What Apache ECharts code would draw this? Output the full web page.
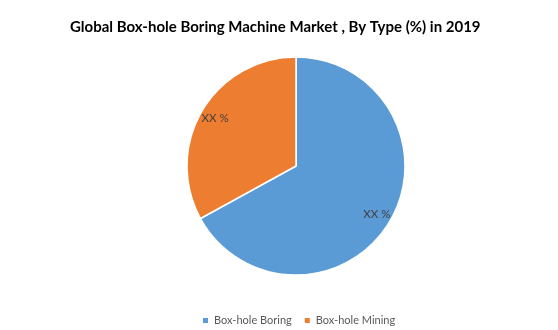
<!DOCTYPE html>
<html><head><meta charset="utf-8">
<script src="https://cdn.jsdelivr.net/npm/echarts@6/dist/echarts.min.js"></script>
<style>html,body{margin:0;padding:0;background:#fff}#c{width:558px;height:330px}</style>
</head><body><div id="c"></div>
<script>
const categories = ['Box-hole Boring', 'Box-hole Mining'];
const values = [67, 33];
const labelTexts = ['XX %', 'XX %'];
const colors = ['#5B9BD5', '#ED7D31'];

const data = categories.map((n, i) => ({ name: n, value: values[i], itemStyle: { color: colors[i] } }));
const chart = echarts.init(document.getElementById('c'));
chart.setOption({
  animation: false,
  backgroundColor: '#fff',
  title: {
    text: 'Global Box-hole Boring Machine Market , By Type (%) in 2019',
    left: 65, top: 15,
    textStyle: { fontFamily: 'Lato', fontWeight: 'bold', fontSize: 15, color: '#000' }
  },
  legend: {
    top: 310, left: 196,
    icon: 'rect', itemWidth: 7, itemHeight: 7, itemGap: 11,
    textStyle: { fontFamily: 'Lato', fontSize: 11, color: '#595959' },
    data: categories
  },
  series: [{
    type: 'pie', center: [296, 166], radius: [0, 109],
    startAngle: 90, clockwise: true,
    itemStyle: { borderColor: '#fff', borderWidth: 1.5 },
    label: { show: false }, labelLine: { show: false },
    silent: true,
    data: data
  }, {
    type: 'pie', center: [296, 166], radius: [74, 108],
    startAngle: 90, clockwise: true, silent: true,
    itemStyle: { color: 'rgba(0,0,0,0)' },
    label: {
      show: true, position: 'inside',
      formatter: p => labelTexts[p.dataIndex],
      fontFamily: 'Lato', fontSize: 11.5, color: '#404040'
    },
    labelLine: { show: false },
    data: categories.map((n, i) => ({ name: n, value: values[i], itemStyle: { color: 'rgba(0,0,0,0)' } }))
  }]
});
</script></body></html>
